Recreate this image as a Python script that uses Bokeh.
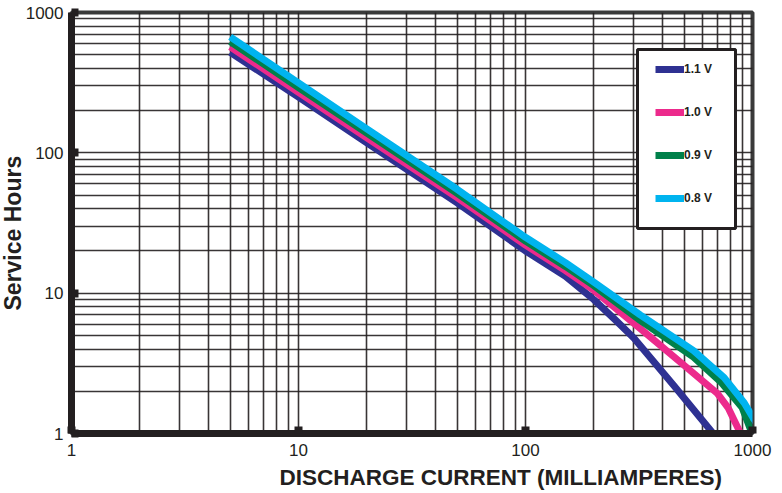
from bokeh.plotting import figure
from bokeh.models import (FixedTicker, Legend, LegendItem, BoxAnnotation, Title,
                          Range1d, PrintfTickFormatter)
from bokeh.embed import file_html
from bokeh.resources import INLINE

# ---- data ----
current_11 = [5, 10, 20, 50, 100, 150, 200, 250, 300, 450, 700]
hours_11 = [520, 250, 118, 44, 20, 13.2, 9.0, 6.4, 4.8, 2.2, 0.92]

current_10 = [5, 10, 20, 50, 100, 150, 200, 320, 520, 700, 780, 900]
hours_10 = [570, 270, 128, 48, 22, 14.5, 10.5, 5.6, 2.9, 1.93, 1.53, 0.95]

current_09 = [5, 10, 20, 50, 100, 150, 200, 320, 550, 730, 900, 1000]
hours_09 = [620, 292, 138, 51.5, 23.5, 15.5, 11.3, 6.4, 3.5, 2.3, 1.53, 0.98]

current_08 = [5, 10, 20, 50, 100, 150, 200, 320, 550, 750, 920, 1050]
hours_08 = [670, 315, 148, 55, 25, 16.5, 12.0, 7.0, 3.9, 2.5, 1.65, 1.15]

series_names = ["1.1 V", "1.0 V", "0.9 V", "0.8 V"]
series_colors = ["#2e3192", "#ec2a8c", "#00804a", "#00b4ef"]

major_ticks = [1, 10, 100, 1000]
tick_labels = ["1", "10", "100", "1000"]
minor_ticks = [m * 10 ** e for e in range(3) for m in range(2, 10)]

x_title = "DISCHARGE CURRENT (MILLIAMPERES)"
y_title = "Service Hours"

INK = "#231f20"
FONT = "Arial"

p = figure(width=782, height=493, x_axis_type="log", y_axis_type="log",
           x_range=Range1d(1, 1000), y_range=Range1d(1, 1000),
           output_backend="svg", toolbar_location=None, title=None,
           min_border_left=70, min_border_right=30, min_border_top=12,
           min_border_bottom=60)
p.background_fill_color = "white"
p.border_fill_color = "white"
p.outline_line_color = "#3a3a3a"
p.outline_line_width = 4

for ax in (p.xaxis, p.yaxis):
    ax.ticker = FixedTicker(ticks=major_ticks, minor_ticks=minor_ticks)
    ax.formatter = PrintfTickFormatter(format="%d")
    ax.major_label_overrides = {t: l for t, l in zip(major_ticks, tick_labels)}
    ax.axis_line_color = INK
    ax.axis_line_width = 7
    ax.major_tick_line_color = INK
    ax.major_tick_line_width = 8
    ax.major_tick_in = 7
    ax.major_tick_out = 0
    ax.minor_tick_line_color = None
    ax.major_label_text_font = FONT
    ax.major_label_text_font_size = "17px"
    ax.major_label_text_color = INK
p.xaxis.major_label_standoff = 6
p.yaxis.major_label_standoff = 4

for g in (p.xgrid, p.ygrid):
    g.grid_line_color = INK
    g.grid_line_width = 1.6
    g.grid_line_alpha = 0.9
    g.minor_grid_line_color = INK
    g.minor_grid_line_width = 1.6
    g.minor_grid_line_alpha = 0.9

data = [(current_11, hours_11), (current_10, hours_10),
        (current_09, hours_09), (current_08, hours_08)]
items = []
for (xs, ys), name, color in zip(data, series_names, series_colors):
    r = p.line(xs, ys, line_color=color, line_width=7, line_cap="butt",
               line_join="round")
    items.append(LegendItem(label=name, renderers=[r]))

# legend frame (white box with dark border)
box = BoxAnnotation(left=566, right=664, bottom=205, top=384,
                    left_units="screen", right_units="screen",
                    bottom_units="screen", top_units="screen",
                    fill_color="white", fill_alpha=1.0,
                    line_color=INK, line_alpha=1.0, line_width=3,
                    level="annotation")
p.add_layout(box)

legend = Legend(items=items, location=(584, 228), orientation="vertical",
                padding=0, margin=0, spacing=29, glyph_width=29, glyph_height=14,
                label_height=14, label_standoff=0,
                label_text_font=FONT, label_text_font_size="12px",
                label_text_font_style="bold", label_text_color=INK,
                background_fill_alpha=0, border_line_alpha=0)
p.add_layout(legend)

xt = Title(text=x_title, align="left", offset=208, standoff=8,
           text_font=FONT, text_font_size="22.5px", text_font_style="bold",
           text_color=INK)
yt = Title(text=y_title, align="left", offset=123, standoff=-6,
           text_font=FONT, text_font_size="23px", text_font_style="bold",
           text_color=INK)
p.add_layout(xt, "below")
p.add_layout(yt, "left")

open("out.html", "w").write(file_html(p, INLINE))
